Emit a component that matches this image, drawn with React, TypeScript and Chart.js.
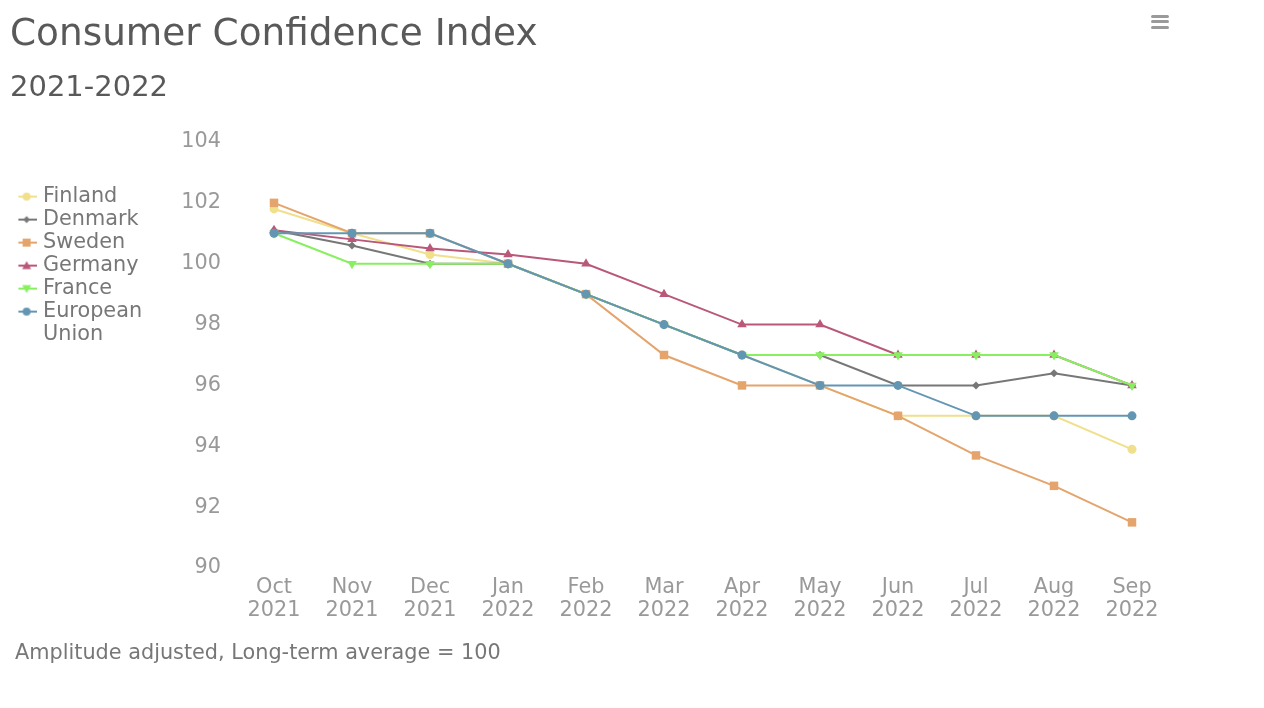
import React, { useEffect, useRef } from 'react';
import { Chart, registerables } from 'chart.js';

Chart.register(...registerables);

const titleText = 'Consumer Confidence Index';
const subtitleText = '2021-2022';
const footerText = 'Amplitude adjusted, Long-term average = 100';

const categories = [
  ['Oct', '2021'], ['Nov', '2021'], ['Dec', '2021'], ['Jan', '2022'],
  ['Feb', '2022'], ['Mar', '2022'], ['Apr', '2022'], ['May', '2022'],
  ['Jun', '2022'], ['Jul', '2022'], ['Aug', '2022'], ['Sep', '2022'],
];

const seriesNames = ['Finland', 'Denmark', 'Sweden', 'Germany', 'France', 'European Union'];
const legendTexts: (string | string[])[] = ['Finland', 'Denmark', 'Sweden', 'Germany', 'France', ['European', 'Union']];

const finland = [101.8, 101.0, 100.3, 100, 99, 98, 97, 96, 95, 95, 95, 93.9];
const denmark = [101.1, 100.6, 100, 100, 99, 98, 97, 97, 96, 96, 96.4, 96];
const sweden = [102.0, 101, 101, 100, 99, 97, 96, 96, 95, 93.7, 92.7, 91.5];
const germany = [101.1, 100.8, 100.5, 100.3, 100, 99, 98, 98, 97, 97, 97, 96];
const france = [101, 100, 100, 100, 99, 98, 97, 97, 97, 97, 97, 96];
const europeanUnion = [101, 101, 101, 100, 99, 98, 97, 96, 96, 95, 95, 95];

const seriesValues = [finland, denmark, sweden, germany, france, europeanUnion];
const colors = ['#f0e08c', '#777777', '#e4a46c', '#b9587a', '#88f060', '#6396b3'];
const pointStyles = ['circle', 'rectRot', 'rect', 'triangle', 'triangle', 'circle'];
const pointRotations = [0, 0, 0, 0, 180, 0];
const pointRadii = [4.5, 4, 6, 5.5, 5.5, 4.5];

const yTicks = [90, 92, 94, 96, 98, 100, 102, 104];

const FONT = "'DejaVu Sans', sans-serif";
const FS = 20.8;
const PAD_L = 18.4;

function makeLegendIcon(i: number): HTMLCanvasElement {
  const c = document.createElement('canvas');
  c.width = 20;
  c.height = 12;
  const ctx = c.getContext('2d')!;
  const col = colors[i];
  ctx.strokeStyle = col;
  ctx.fillStyle = col;
  ctx.lineWidth = 2;
  ctx.beginPath();
  ctx.moveTo(0, 6);
  ctx.lineTo(20, 6);
  ctx.stroke();
  const cx = 10, cy = 6;
  const style = pointStyles[i];
  ctx.beginPath();
  if (style === 'circle') {
    ctx.arc(cx, cy, 4, 0, Math.PI * 2);
  } else if (style === 'rect') {
    ctx.rect(cx - 4, cy - 4, 8, 8);
  } else if (style === 'rectRot') {
    ctx.moveTo(cx, cy - 3.5);
    ctx.lineTo(cx + 3.5, cy);
    ctx.lineTo(cx, cy + 3.5);
    ctx.lineTo(cx - 3.5, cy);
    ctx.closePath();
  } else if (style === 'triangle') {
    const d = pointRotations[i] === 180 ? -1 : 1;
    ctx.moveTo(cx, cy - 4.5 * d);
    ctx.lineTo(cx + 4.5, cy + 3.5 * d);
    ctx.lineTo(cx - 4.5, cy + 3.5 * d);
    ctx.closePath();
  }
  ctx.fill();
  return c;
}

export default function App() {
  const canvasRef = useRef<HTMLCanvasElement | null>(null);

  useEffect(() => {
    if (!canvasRef.current) return;
    Chart.defaults.font.family = FONT;
    const icons = seriesNames.map((_, i) => makeLegendIcon(i));
    const chart = new Chart(canvasRef.current, {
      type: 'line',
      data: {
        labels: categories,
        datasets: seriesNames.map((name, i) => ({
          label: name,
          data: seriesValues[i],
          borderColor: colors[i],
          backgroundColor: colors[i],
          pointBackgroundColor: colors[i],
          pointBorderColor: colors[i],
          pointBorderWidth: 0,
          pointStyle: pointStyles[i] as any,
          rotation: pointRotations[i],
          pointRadius: pointRadii[i],
          pointHoverRadius: pointRadii[i],
          borderWidth: 2,
          tension: 0,
          fill: false,
          order: seriesNames.length - 1 - i,
        })),
      },
      options: {
        animation: false,
        responsive: false,
        devicePixelRatio: 1,
        layout: { padding: { top: 142, left: PAD_L, right: 93, bottom: 88 } },
        plugins: {
          title: { display: false },
          tooltip: { enabled: false },
          legend: {
            display: true,
            position: 'left',
            align: 'start',
            title: { display: true, text: '', padding: { top: 30, bottom: 0 }, font: { size: 10, lineHeight: 1.2 } },
            labels: {
              usePointStyle: true,
              pointStyleWidth: 12,
              padding: 2.2,
              color: '#777777',
              font: { family: FONT, size: FS, lineHeight: 1.106 },
              generateLabels: (ch: any) =>
                ch.data.datasets.map((ds: any, i: number) => ({
                  text: legendTexts[i],
                  fillStyle: colors[i],
                  strokeStyle: colors[i],
                  lineWidth: 0,
                  pointStyle: icons[i],
                  hidden: !ch.isDatasetVisible(i),
                  datasetIndex: i,
                  fontColor: '#777777',
                })),
            },
          },
        },
        scales: {
          x: {
            type: 'category',
            offset: true,
            grid: { display: false, drawTicks: false },
            border: { display: false },
            afterFit: (scale: any) => {
              scale.height = 52;
            },
            ticks: {
              color: '#999999',
              padding: 8,
              autoSkip: false,
              maxRotation: 0,
              font: { family: FONT, size: FS, lineHeight: 1.106 },
            },
          },
          y: {
            type: 'linear',
            min: yTicks[0],
            max: yTicks[yTicks.length - 1],
            grid: { display: false, drawTicks: false },
            border: { display: false },
            afterFit: (scale: any) => {
              const lw = scale.chart.legend ? scale.chart.legend.width : 131;
              scale.width = 235 - PAD_L - lw;
            },
            afterBuildTicks: (scale: any) => {
              scale.ticks = yTicks.map((v) => ({ value: v }));
            },
            ticks: {
              color: '#999999',
              padding: 14,
              font: { family: FONT, size: FS },
            },
          },
        },
      },
    });
    return () => chart.destroy();
  }, []);

  return (
    <div style={{ position: 'absolute', left: 0, top: 0, width: 1264, height: 708, background: '#ffffff', overflow: 'hidden', fontFamily: FONT }}>
      <canvas ref={canvasRef} width={1264} height={708} style={{ position: 'absolute', left: 0, top: 0, width: 1264, height: 708 }} />
      <div style={{ position: 'absolute', left: 10, top: 14.4, fontSize: 37.4, lineHeight: '37.4px', color: '#595959', whiteSpace: 'nowrap' }}>{titleText}</div>
      <div style={{ position: 'absolute', left: 10, top: 71.5, fontSize: 29, lineHeight: '29px', color: '#595959', whiteSpace: 'nowrap' }}>{subtitleText}</div>
      <div style={{ position: 'absolute', left: 15, top: 642.4, fontSize: FS, lineHeight: FS + 'px', color: '#777777', whiteSpace: 'nowrap' }}>{footerText}</div>
      <div style={{ position: 'absolute', left: 1151, top: 15 }}>
        {[0, 1, 2].map((k) => (
          <div key={k} style={{ position: 'absolute', left: 0, top: k * 5.3, width: 18, height: 3, borderRadius: 1.5, background: '#9a9a9a' }} />
        ))}
      </div>
    </div>
  );
}
